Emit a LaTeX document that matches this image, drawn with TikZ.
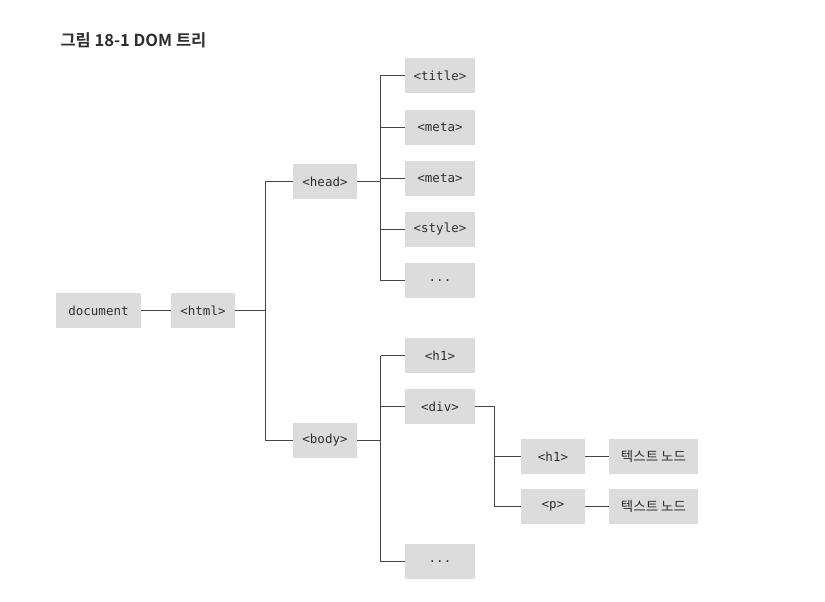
\documentclass[tikz,border=0pt]{standalone}
\usepackage{fontspec}
\setmonofont{DejaVu Sans Mono}
\newfontfamily\kofont{Noto Sans CJK KR}
\newfontfamily\kobold{Noto Sans CJK KR Bold}
\usetikzlibrary{positioning}
\definecolor{boxgray}{HTML}{DCDCDC}
\definecolor{linegray}{HTML}{444444}
\definecolor{textgray}{HTML}{2E2E2E}
\tikzset{
  dom node/.style={
    fill=boxgray, minimum width=64, minimum height=35, inner sep=0pt,
    text=textgray, font=\ttfamily\fontsize{12.5}{14}\selectfont
  },
  wide node/.style={dom node, minimum width=70},
  text node/.style={dom node, minimum width=89, font=\kofont\fontsize{13.5}{15}\selectfont},
  link/.style={draw=linegray, line width=1.6pt}
}

\begin{document}
\begin{tikzpicture}[x=1pt, y=-1pt]
    \useasboundingbox (0,0) rectangle (825,602);
    \draw (57,40) node[anchor=west, text=textgray, font=\kobold\fontsize{16.5}{18}\selectfont] (caption) {그림 18-1 DOM 트리};

    % root
    \draw (98.5,310.5) node[dom node, minimum width=85] (document) {document};
    \draw (203,310.5) node[dom node] (html) {<html>};
    \draw (325,181.5) node[dom node] (head) {<head>};
    \draw (325,440.5) node[dom node] (body) {<body>};

    % head children
    \draw (440,75.5) node[wide node] (title) {<title>};
    \draw (440,127.5) node[wide node] (meta1) {<meta>};
    \draw (440,178.5) node[wide node] (meta2) {<meta>};
    \draw (440,229.5) node[wide node] (style) {<style>};
    \draw (440,280.5) node[wide node] (headmore) {...};

    % body children
    \draw (440,355.5) node[wide node] (bodyh1) {<h1>};
    \draw (440,406.5) node[wide node] (div) {<div>};
    \draw (440,561.5) node[wide node] (bodymore) {...};
    \draw (553,456.5) node[dom node] (divh1) {<h1>};
    \draw (553,506.5) node[dom node] (divp) {<p>};
    \draw (653.5,456.5) node[text node] (text1) {텍스트 노드};
    \draw (653.5,506.5) node[text node] (text2) {텍스트 노드};

    % joints
    \coordinate (htmljoint) at (265.5,310.5);
    \coordinate (headjoint) at (380.5,181.5);
    \coordinate (bodyjoint) at (380.5,440.5);
    \coordinate (divjoint) at (494.5,406.5);

    \draw[link] (document) -- (html);
    \draw[link] (html) -- (htmljoint);
    \draw[link] (head.west) -| (htmljoint) |- (body.west);

    % head branch
    \draw[link] (head) -- (headjoint);
    \draw[link] (title.west -| headjoint) -- (headmore.west -| headjoint);
    \foreach \n in {title,meta1,meta2,style,headmore}
        \draw[link] (\n.west -| headjoint) -- (\n.west);

    % body branch
    \draw[link] (body) -- (bodyjoint);
    \draw[link] (bodyh1.west -| bodyjoint) -- (bodymore.west -| bodyjoint);
    \foreach \n in {bodyh1,div,bodymore}
        \draw[link] (\n.west -| bodyjoint) -- (\n.west);

    % div branch
    \draw[link] (div) -| (divjoint |- divp.west) -- (divp.west);
    \draw[link] (divh1.west -| divjoint) -- (divh1.west);
    \draw[link] (divh1) -- (text1);
    \draw[link] (divp) -- (text2);
\end{tikzpicture}
\end{document}
